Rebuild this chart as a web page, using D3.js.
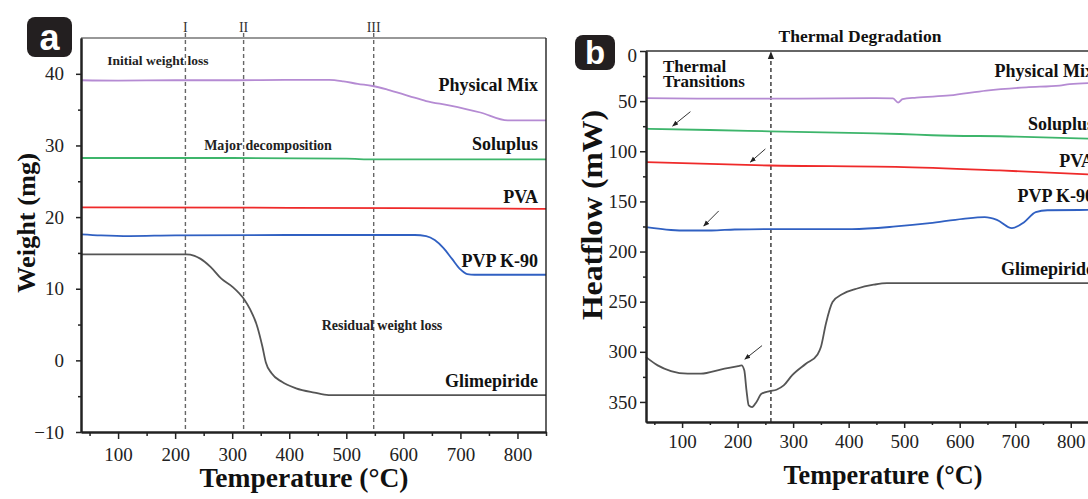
<!DOCTYPE html>
<html>
<head>
<meta charset="utf-8">
<script src="https://cdn.jsdelivr.net/npm/d3@7"></script>
<style>
  body { margin: 0; background: #fff; }
  svg { display: block; font-family: "Liberation Serif", "Times New Roman", serif; }
</style>
</head>
<body>
<svg id="fig" width="1088" height="499"></svg>
<script>
// ---- TGA: weight (mg) vs temperature (°C) ----
const tgaPhysicalMix = [[35,39.1],[100,39.05],[200,39.1],[300,39.1],[400,39.15],[470,39.15],[495,38.95],[520,38.6],[546,38.3],[572,37.8],[610,36.9],[640,36.2],[680,35.6],[735,34.6],[783,33.5],[850,33.5]];
const tgaSoluplus = [[35,28.25],[300,28.25],[500,28.15],[550,28.05],[850,28.05]];
const tgaPVA = [[35,21.35],[400,21.3],[600,21.25],[850,21.15]];
const tgaPVP = [[35,17.6],[70,17.45],[120,17.35],[200,17.45],[400,17.5],[620,17.5],[640,17.35],[655,16.8],[670,15.7],[685,14.2],[700,12.7],[712,12.05],[725,11.95],[850,11.95]];
const tgaGlimepiride = [[35,14.8],[219,14.8],[234,14.6],[244,14.2],[262,13.05],[281,11.4],[300,10.3],[322,8.4],[331,7.2],[344,4.7],[353,1.9],[359,-0.3],[369,-1.8],[387,-3.0],[412,-3.9],[444,-4.5],[469,-4.85],[850,-4.85]];
const tgaStageTemps = [218, 320, 548];
const tgaStageLabels = ["I", "II", "III"];
const tgaYTicks = [-10, 0, 10, 20, 30, 40];
const tgaXTicks = [100, 200, 300, 400, 500, 600, 700, 800];

// ---- DSC: heat flow (mW) vs temperature (°C) ----
const dscPhysicalMix = [[35,47],[150,47.5],[300,47.5],[450,47],[480,47.3],[489,51.5],[497,48],[522,46.5],[582,44.3],[648,39.5],[720,36.2],[780,34.5],[798,33],[850,31.8]];
const dscSoluplus = [[35,77.5],[150,78.8],[258,80.1],[425,81.9],[492,82.8],[550,84],[700,85.3],[850,87.8]];
const dscPVA = [[35,110.9],[258,114.2],[485,115.5],[672,119.1],[850,123.5]];
const dscPVP = [[35,175.7],[80,178.5],[110,179],[153,179],[195,178],[258,177.6],[406,177.6],[485,175],[546,171.7],[606,167.4],[645,165.7],[667,168.4],[694,176.7],[716,170.7],[737,160.7],[758,158.8],[850,158.5]];
const dscGlimepiride = [[35,305.3],[56,313.5],[80,319.2],[110,321.8],[134,321.8],[171,317.5],[201,314.2],[207,313.5],[212,318.5],[216,338.5],[220,353.4],[226,355.1],[234,350],[243,341.8],[258,339.2],[270,337.8],[283,333.5],[298,323.5],[323,311.9],[344,302.6],[350,295.3],[359,272],[371,250.4],[390,242],[414,237.1],[445,233.1],[469,231.5],[850,231.5]];
const dscDegradationTemp = 260;
// transition arrows: [tipT, tipValue, tailT, tailValue]
const dscArrows = [[83,74.8,115,60.5],[223,110.7,250,97.7],[139,174.5,166,159.5],[213,307.4,244,293.8]];
const dscYTicks = [0, 50, 100, 150, 200, 250, 300, 350];
const dscXTicks = [100, 200, 300, 400, 500, 600, 700, 800];

const seriesNames = ["Physical Mix", "Soluplus", "PVA", "PVP K-90", "Glimepiride"];
const seriesColors = ["#b58bd3", "#3db56b", "#ef2a2a", "#3060c2", "#555555"];

const svg = d3.select("#fig");
const boldSerif = sel => sel.attr("font-family", "'Liberation Serif', 'Times New Roman', serif").attr("font-weight", "bold");

// ================= Panel a =================
const xa = d3.scaleLinear().domain([35, 850]).range([81, 546]);
const ya = d3.scaleLinear().domain([-10, 45]).range([432, 38]);
const ga = svg.append("g");

// dashed stage markers
ga.selectAll("line.stage").data(tgaStageTemps).join("line")
  .attr("x1", d => xa(d)).attr("x2", d => xa(d))
  .attr("y1", 33).attr("y2", ya(-10))
  .attr("stroke", "#666").attr("stroke-width", 1.4).attr("stroke-dasharray", "4,3");
ga.selectAll("text.stage").data(tgaStageTemps).join("text")
  .attr("x", d => xa(d)).attr("y", 32).attr("text-anchor", "middle")
  .attr("font-size", 14).attr("fill", "#333")
  .text((d, i) => tgaStageLabels[i]);

const lineA = d3.line().x(d => xa(d[0])).y(d => ya(d[1])).curve(d3.curveMonotoneX);
[tgaPhysicalMix, tgaSoluplus, tgaPVA, tgaPVP, tgaGlimepiride].forEach((s, i) => {
  ga.append("path").datum(s).attr("d", lineA).attr("fill", "none")
    .attr("stroke", seriesColors[i]).attr("stroke-width", 1.8);
});

// frame
ga.append("line").attr("x1", xa(35)).attr("x2", xa(850)).attr("y1", ya(45)).attr("y2", ya(45)).attr("stroke", "#333").attr("stroke-width", 1.2);
ga.append("line").attr("x1", xa(850)).attr("x2", xa(850)).attr("y1", ya(45)).attr("y2", ya(-10)).attr("stroke", "#222").attr("stroke-width", 1.4);

// axes
ga.append("g").attr("transform", `translate(0,${ya(-10)})`)
  .call(d3.axisBottom(xa).tickValues(tgaXTicks).tickSize(7).tickPadding(9).tickSizeOuter(0));
ga.append("g").attr("transform", `translate(0,${ya(-10)})`)
  .call(d3.axisBottom(xa).tickValues(d3.range(50, 851, 100)).tickSize(4).tickFormat("").tickSizeOuter(0));
ga.append("g").attr("transform", `translate(${xa(35)},0)`)
  .call(d3.axisLeft(ya).tickValues(tgaYTicks).tickSize(5).tickPadding(12).tickSizeOuter(0).tickFormat(d3.format("")));
ga.append("g").attr("transform", `translate(${xa(35)},0)`)
  .call(d3.axisLeft(ya).tickValues(d3.range(-5, 45, 10)).tickSize(3).tickFormat("").tickSizeOuter(0));

// ================= Panel b =================
const xb = d3.scaleLinear().domain([35, 850]).range([646, 1098.5]);
const yb = d3.scaleLinear().domain([0, 370]).range([51, 422]);
const gb = svg.append("g");

svg.append("defs").append("marker").attr("id", "arrowHead")
  .attr("viewBox", "0 0 10 10").attr("refX", 9).attr("refY", 5)
  .attr("markerWidth", 6).attr("markerHeight", 6).attr("orient", "auto")
  .append("path").attr("d", "M0,1 L10,5 L0,9 z").attr("fill", "#222");

// degradation marker with arrow pointing up
gb.append("line").attr("x1", xb(dscDegradationTemp)).attr("x2", xb(dscDegradationTemp))
  .attr("y1", yb(370)).attr("y2", yb(0) + 1)
  .attr("stroke", "#222").attr("stroke-width", 1.3).attr("stroke-dasharray", "4,3")
  .attr("marker-end", "url(#arrowHead)");

const lineB = d3.line().x(d => xb(d[0])).y(d => yb(d[1])).curve(d3.curveMonotoneX);
[dscPhysicalMix, dscSoluplus, dscPVA, dscPVP, dscGlimepiride].forEach((s, i) => {
  gb.append("path").datum(s).attr("d", lineB).attr("fill", "none")
    .attr("stroke", seriesColors[i]).attr("stroke-width", 1.8);
});

gb.selectAll("line.arrow").data(dscArrows).join("line")
  .attr("x1", d => xb(d[2])).attr("y1", d => yb(d[3]))
  .attr("x2", d => xb(d[0])).attr("y2", d => yb(d[1]))
  .attr("stroke", "#333").attr("stroke-width", 1)
  .attr("marker-end", "url(#arrowHead)");

gb.append("line").attr("x1", xb(35)).attr("x2", 1088).attr("y1", yb(0)).attr("y2", yb(0)).attr("stroke", "#666").attr("stroke-width", 2);

gb.append("g").attr("transform", `translate(0,${yb(370)})`)
  .call(d3.axisBottom(xb).tickValues(dscXTicks).tickSize(6).tickPadding(7).tickSizeOuter(0));
gb.append("g").attr("transform", `translate(0,${yb(370)})`)
  .call(d3.axisBottom(xb).tickValues(d3.range(50, 851, 100)).tickSize(3).tickFormat("").tickSizeOuter(0));
const axB_y = gb.append("g").attr("transform", `translate(${xb(35)},0)`)
  .call(d3.axisLeft(yb).tickValues(dscYTicks).tickSize(6).tickPadding(3).tickSizeOuter(0));
gb.append("g").attr("transform", `translate(${xb(35)},0)`)
  .call(d3.axisLeft(yb).tickValues(d3.range(25, 370, 50)).tickSize(3).tickFormat("").tickSizeOuter(0));
// the "0" label sits a little below the top frame
axB_y.selectAll(".tick").filter(d => d === 0).select("text").attr("dy", "0.55em");

// shared axis styling
svg.selectAll(".domain").attr("stroke", "#222").attr("stroke-width", 2);
svg.selectAll(".tick line").attr("stroke", "#222").attr("stroke-width", 1.5);
svg.selectAll(".tick text").attr("font-family", "'Liberation Serif', 'Times New Roman', serif")
  .attr("font-size", 19).attr("fill", "#222");

// ================= Labels =================
const labA = [91, 150, 203, 267, 387];
seriesNames.forEach((n, i) => {
  ga.append("text").attr("x", 538).attr("y", labA[i]).attr("text-anchor", "end")
    .attr("font-size", 18).attr("fill", "#111").call(boldSerif).text(n);
});
const labB = [77, 130, 167, 202, 275];
seriesNames.forEach((n, i) => {
  gb.append("text").attr("x", 1094).attr("y", labB[i]).attr("text-anchor", "end")
    .attr("font-size", 18).attr("fill", "#111").call(boldSerif).text(n);
});

ga.append("text").attr("x", 158).attr("y", 65).attr("text-anchor", "middle").attr("font-size", 13.5).attr("fill", "#222").call(boldSerif).text("Initial weight loss");
ga.append("text").attr("x", 268).attr("y", 150).attr("text-anchor", "middle").attr("font-size", 14).attr("fill", "#222").call(boldSerif).text("Major decomposition");
ga.append("text").attr("x", 382).attr("y", 330).attr("text-anchor", "middle").attr("font-size", 14).attr("fill", "#222").call(boldSerif).text("Residual weight loss");

gb.append("text").attr("x", 860).attr("y", 42).attr("text-anchor", "middle").attr("font-size", 17.5).attr("fill", "#111").call(boldSerif).text("Thermal Degradation");
gb.append("text").attr("x", 663).attr("y", 72).attr("font-size", 17).attr("fill", "#111").call(boldSerif).text("Thermal");
gb.append("text").attr("x", 663).attr("y", 87).attr("font-size", 17).attr("fill", "#111").call(boldSerif).text("Transitions");

// axis titles
ga.append("text").attr("x", 304).attr("y", 487).attr("text-anchor", "middle")
  .attr("font-size", 28).attr("textLength", 209).attr("lengthAdjust", "spacingAndGlyphs")
  .attr("fill", "#111").call(boldSerif).text("Temperature (°C)");
gb.append("text").attr("x", 883).attr("y", 484).attr("text-anchor", "middle")
  .attr("font-size", 28).attr("textLength", 199).attr("lengthAdjust", "spacingAndGlyphs")
  .attr("fill", "#111").call(boldSerif).text("Temperature (°C)");
ga.append("text").attr("transform", "translate(35,223) rotate(-90)").attr("text-anchor", "middle")
  .attr("font-size", 26).attr("textLength", 140).attr("lengthAdjust", "spacingAndGlyphs")
  .attr("fill", "#111").call(boldSerif).text("Weight (mg)");
gb.append("text").attr("transform", "translate(602,215) rotate(-90)").attr("text-anchor", "middle")
  .attr("font-size", 30).attr("textLength", 210).attr("lengthAdjust", "spacingAndGlyphs")
  .attr("fill", "#111").call(boldSerif).text("Heatflow (mW)");

// panel badges
const badges = [["a", 27, 17, 45, 40, 36], ["b", 575, 35, 40, 35, 33]];
badges.forEach(([t, x, y, w, h, fs]) => {
  svg.append("rect").attr("x", x).attr("y", y).attr("width", w).attr("height", h).attr("rx", 8).attr("fill", "#231f20");
  svg.append("text").attr("x", x + w / 2).attr("y", y + h / 2 + fs * 0.36).attr("text-anchor", "middle")
    .attr("font-family", "'Liberation Sans', Arial, sans-serif").attr("font-weight", "bold")
    .attr("font-size", fs).attr("fill", "#fff").text(t);
});
</script>
</body>
</html>
